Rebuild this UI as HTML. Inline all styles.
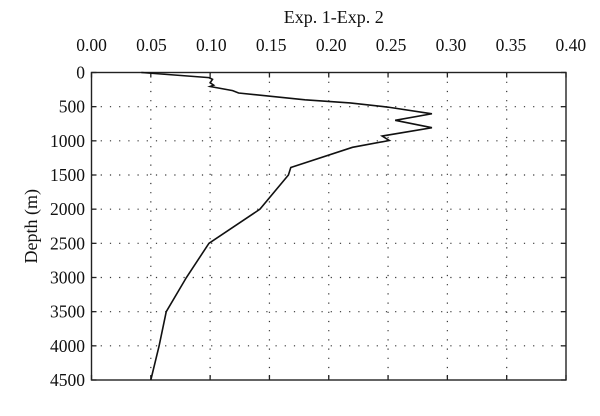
<!DOCTYPE html>
<html><head><meta charset="utf-8"><style>
html,body{margin:0;padding:0;background:#fff;}
svg text{font-family:"Liberation Serif",serif;fill:#111;}
</style></head><body>
<svg id="chart" width="600" height="411" viewBox="0 0 600 411" xmlns="http://www.w3.org/2000/svg"></svg>
<script>
const xTicks=[0,0.05,0.10,0.15,0.20,0.25,0.30,0.35,0.40];
const xTickLabels=["0.00","0.05","0.10","0.15","0.20","0.25","0.30","0.35","0.40"];
const yTicks=[0,500,1000,1500,2000,2500,3000,3500,4000,4500];
const yTickLabels=["0","500","1000","1500","2000","2500","3000","3500","4000","4500"];
const depths=[0,75,100,150,185,205,265,300,400,445,507,604,700,808,930,995,1095,1390,1500,2000,2500,3000,3500,4000,4500];
const diffs=[0.042,0.099,0.102,0.100,0.103,0.100,0.119,0.124,0.180,0.218,0.250,0.287,0.256,0.287,0.245,0.251,0.220,0.168,0.166,0.142,0.099,0.080,0.063,0.057,0.050];

const L=91.5,R=566,T=72.5,B=380;
const sx=v=>L+(v-0)/(0.40)*(R-L);
const sy=d=>T+d/4500*(B-T);
const NS="http://www.w3.org/2000/svg";
const svg=document.getElementById('chart');
function mk(tag,attrs,parent){const e=document.createElementNS(NS,tag);for(const k in attrs)e.setAttribute(k,attrs[k]);(parent||svg).appendChild(e);return e;}

const grid=mk('g',{});


xTicks.forEach((v,i)=>{
  if(i>0&&i<xTicks.length-1){const l=mk('line',{x1:sx(v),x2:sx(v),y1:T,y2:B,stroke:'#333','stroke-width':1.2,'stroke-dasharray':'1.2 8'},grid);
  }
  const tk=mk('line',{x1:sx(v),x2:sx(v),y1:T,y2:T+5,stroke:'#222','stroke-width':1.3});
  
  const tb=mk('line',{x1:sx(v),x2:sx(v),y1:B,y2:B-5,stroke:'#222','stroke-width':1.3});
  
  const t=mk('text',{x:sx(v)+i*0.6,y:51,'text-anchor':'middle','font-size':17.5});
  t.textContent=xTickLabels[i];
  
});
yTicks.forEach((d,i)=>{
  if(i>0&&i<yTicks.length-1){const l=mk('line',{x1:L,x2:R,y1:sy(d),y2:sy(d),stroke:'#333','stroke-width':1.2,'stroke-dasharray':'1.2 8'},grid);
  }
  const tk=mk('line',{x1:L,x2:L+5,y1:sy(d),y2:sy(d),stroke:'#222','stroke-width':1.3});
  
  const tr=mk('line',{x1:R,x2:R-5,y1:sy(d),y2:sy(d),stroke:'#222','stroke-width':1.3});
  
  const t=mk('text',{x:85,y:sy(d)+6,'text-anchor':'end','font-size':17.5});
  t.textContent=yTickLabels[i];
  
});
const frame=mk('rect',{x:L,y:T,width:R-L,height:B-T,fill:'none',stroke:'#222','stroke-width':1.4});

const line=mk('polyline',{points:depths.map((d,i)=>sx(diffs[i])+','+sy(d)).join(' '),fill:'none',stroke:'#111','stroke-width':1.6,'stroke-linejoin':'miter'});

const title=mk('text',{x:(L+R)/2+5,y:23,'text-anchor':'middle','font-size':18});
title.textContent='Exp. 1-Exp. 2';

const yt=mk('text',{x:0,y:0,'text-anchor':'middle','font-size':18,transform:'translate(37,'+((T+B)/2)+') rotate(-90)'});
yt.textContent='Depth (m)';

</script>
</body></html>
